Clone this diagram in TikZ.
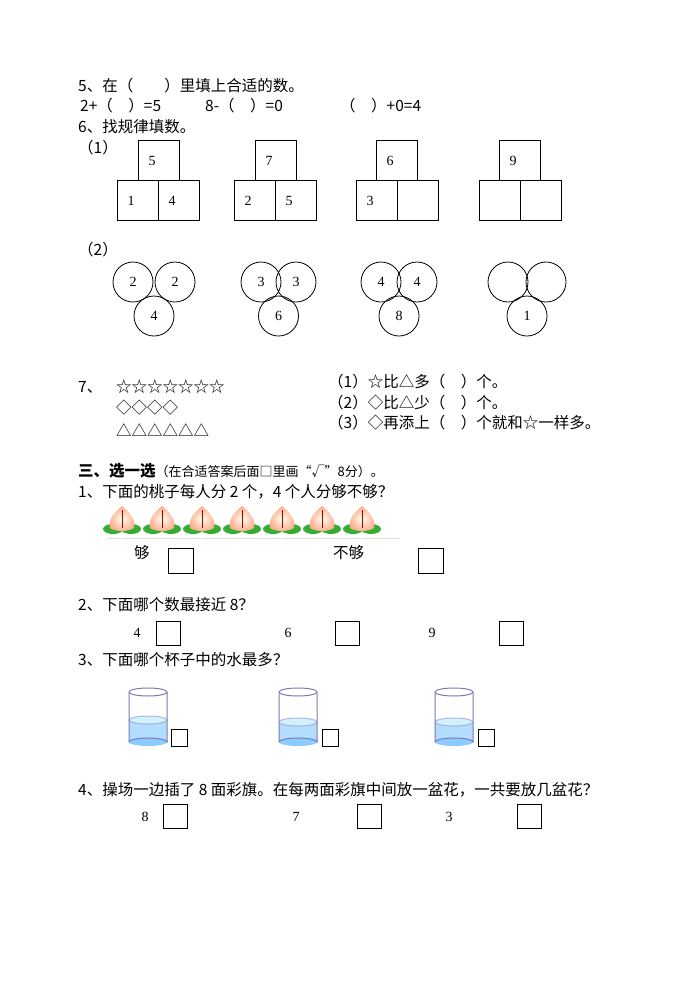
\documentclass[tikz,border=0pt]{standalone}
\usepackage{fontspec}
\setmainfont{Liberation Serif}
\newfontfamily\cjk{Noto Sans CJK SC}
\newfontfamily\djv{DejaVu Sans}
\begin{document}
\begin{tikzpicture}[x=1pt,y=-1pt,
  txt/.style={anchor=west,inner sep=0pt,font=\cjk\fontsize{15.5}{17}\selectfont},
  num/.style={inner sep=0pt,font=\fontsize{14}{16}\selectfont},
  bx/.style={draw,line width=0.8pt},
  cup/.style={draw=blue!30!gray!80,line width=1pt}]
\useasboundingbox (0,0) rectangle (696,983);
\node[txt] (q5) at (78,86) {5、在（　　）里填上合适的数。};
\node[txt] (a1) at (80,106) {2+（　）=5};
\node[txt] (a2) at (205,106) {8-（　）=0};
\node[txt] (a3) at (340,106) {（　）+0=4};
\node[txt] (q6) at (78,127) {6、找规律填数。};
\node[txt] (p1) at (78,148) {（1）};
% houses
\foreach \t/\l/\a/\b/\c [count=\i] in {138/117/5/1/4, 255/234/7/2/5, 376/356/6/3/, 499/479/9//}{
  \draw[bx] (\t,140) rectangle +(41,40);
  \draw[bx] (\l,180) rectangle +(41,40);
  \draw[bx] (\l+41,180) rectangle +(41,40);
  \node[num] (ht\i) at (\t+14,161) {\a};
  \node[num] (hl\i) at (\l+14,201) {\b};
  \node[num] (hr\i) at (\l+55,201) {\c};
}
\node[txt] (p2) at (78,250) {（2）};
\foreach \x/\d/\a/\b/\c [count=\i] in {133/42/2/2/4, 261/35/3/3/6, 381/36/4/4/8, 508/38///1}{
  \draw[bx] (\x,282) circle (20);
  \draw[bx] (\x+\d,282) circle (20);
  \draw[bx] (\x+\d/2,316) circle (20);
  \node[num] (ca\i) at (\x,282) {\a};
  \node[num] (cb\i) at (\x+\d,282) {\b};
  \node[num] (cc\i) at (\x+\d/2,316) {\c};
}
\node[txt] (q7) at (78,387) {7、};
\node[txt] (st) at (116,387) {☆☆☆☆☆☆☆};
\node[txt] (di) at (116,408) {◇◇◇◇};
\node[txt] (tr) at (116,430) {△△△△△△};
\node[txt] (r1) at (328,382) {（1）☆比△多（　）个。};
\node[txt] (r2) at (328,403) {（2）◇比△少（　）个。};
\node[txt] (r3) at (328,423) {（3）◇再添上（　）个就和☆一样多。};
\node[txt] (s3) at (78,471) {\textbf{三、选一选}{\fontsize{13}{15}\selectfont（在合适答案后面□里画“√”8分）。}};
\node[txt] (q1) at (78,492) {1、下面的桃子每人分 2 个，4 个人分够不够？};
% peaches
\foreach \i in {0,...,6}{
  \begin{scope}[shift={(122+40*\i,522)}]
    \fill[green!60!black!80] (-9,7) ellipse (10 and 5);
    \fill[green!60!black!80] (9,7) ellipse (10 and 5);
    \shade[inner color=yellow!8,outer color=orange!50!red!45] (0,-16) .. controls (10,-8) and (14,0) .. (12,6) .. controls (6,10) and (-6,10) .. (-12,6) .. controls (-14,0) and (-10,-8) .. (0,-16);
    \draw[red!65!black,line width=1pt] (0,-12) -- (0,6);
  \end{scope}
}
\draw[gray!25] (108,538) -- (400,538);
\node[txt] (g1) at (134,553) {够};
\draw[bx] (168,548) rectangle (193,573);
\node[txt] (g2) at (333,553) {不够};
\draw[bx] (418,548) rectangle (443,573);
\node[txt] (q2) at (78,605) {2、下面哪个数最接近 8？};
\foreach \n/\x/\b in {4/137/156, 6/288/335, 9/432/499}{
  \node[num] at (\x,633) {\n};
  \draw[bx] (\b,621) rectangle +(24,24);
}
\node[txt] (q3) at (78,660) {3、下面哪个杯子中的水最多？};
\foreach \x/\b/\w in {129/171/720, 279/322/722, 435/478/722}{
  \fill[blue!45!cyan!30] (\x,\w) -- (\x,742) arc[start angle=180,end angle=360,x radius=19,y radius=4] -- (\x+38,\w) arc[start angle=0,end angle=180,x radius=19,y radius=4];
  \fill[blue!45!cyan!45] (\x+19,742) ellipse (19 and 4);
  \fill[blue!30!cyan!18] (\x+19,\w) ellipse (19 and 4);
  \draw[cup,draw opacity=0.5] (\x+19,\w) ellipse (19 and 4);
  \draw[cup] (\x+19,692) ellipse (19 and 4);
  \draw[cup] (\x,692) -- (\x,742) arc[start angle=180,end angle=360,x radius=19,y radius=4] -- (\x+38,692);
  \draw[bx] (\b,729) rectangle +(16,17);
}
\node[txt] (q4) at (78,790) {4、操场一边插了 8 面彩旗。在每两面彩旗中间放一盆花，一共要放几盆花？};
\foreach \n/\x/\b in {8/145/163, 7/296/357, 3/449/517}{
  \node[num] at (\x,817) {\n};
  \draw[bx] (\b,804) rectangle +(24,24);
}
\end{tikzpicture}
\end{document}
